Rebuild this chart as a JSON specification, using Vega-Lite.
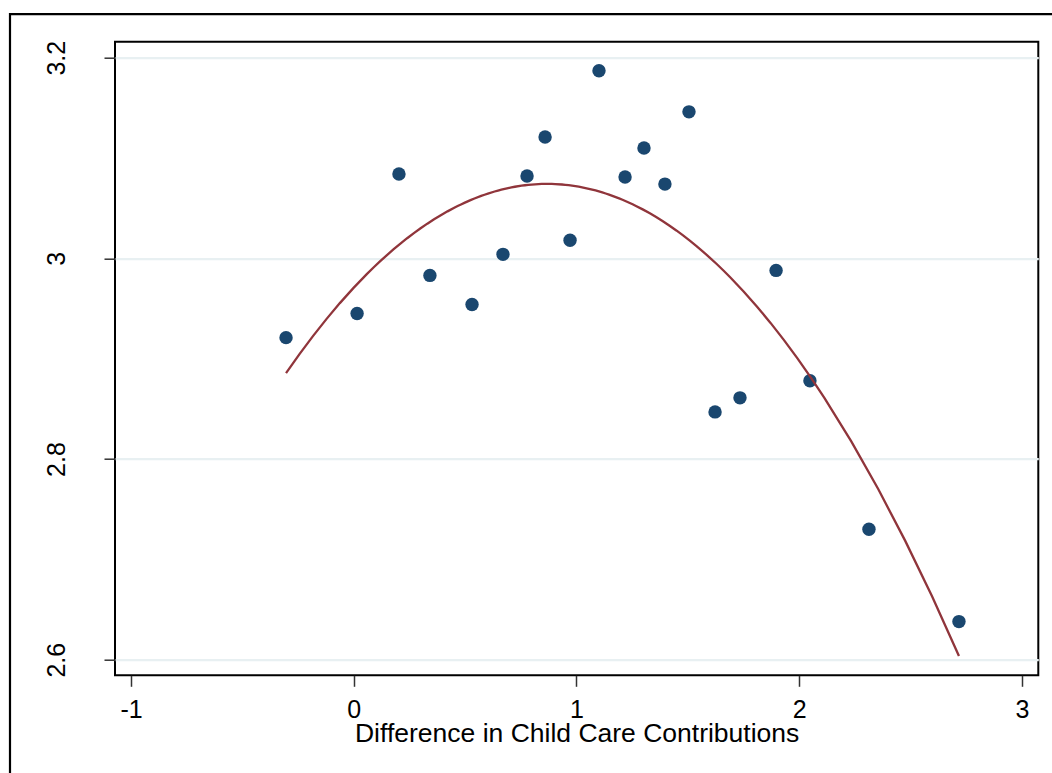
{
  "$schema": "https://vega.github.io/schema/vega-lite/v6.json",
  "width": 923.3,
  "height": 633.6,
  "autosize": {"type": "none"},
  "padding": {"left": 115, "top": 41.7, "right": 13.7, "bottom": 97.7},
  "background": "white",
  "config": {
    "view": {"stroke": "black", "strokeWidth": 2},
    "font": "Liberation Sans"
  },
  "data": {
    "values": [
      {"x": -0.304, "y": 2.921},
      {"x": 0.015, "y": 2.945},
      {"x": 0.203, "y": 3.084},
      {"x": 0.342, "y": 2.983},
      {"x": 0.531, "y": 2.954},
      {"x": 0.670, "y": 3.004},
      {"x": 0.778, "y": 3.082},
      {"x": 0.859, "y": 3.121},
      {"x": 0.971, "y": 3.018},
      {"x": 1.101, "y": 3.187},
      {"x": 1.218, "y": 3.081},
      {"x": 1.303, "y": 3.110},
      {"x": 1.397, "y": 3.074},
      {"x": 1.505, "y": 3.146},
      {"x": 1.622, "y": 2.847},
      {"x": 1.734, "y": 2.861},
      {"x": 1.896, "y": 2.988},
      {"x": 2.048, "y": 2.878},
      {"x": 2.313, "y": 2.730},
      {"x": 2.717, "y": 2.638}
    ]
  },
  "layer": [
    {
      "data": {"values": [{}]},
      "mark": {"type": "rect", "fill": null, "stroke": "black", "strokeWidth": 2.2, "clip": false},
      "encoding": {
        "x": {"datum": -1.5432, "type": "quantitative"},
        "x2": {"datum": 4},
        "y": {"datum": 3.2433, "type": "quantitative"},
        "y2": {"datum": 2.3}
      }
    },
    {
      "mark": {"type": "point", "filled": true, "shape": "circle", "size": 180, "color": "#1a476f", "opacity": 1},
      "encoding": {
        "x": {
          "field": "x",
          "type": "quantitative",
          "scale": {"domain": [-1.0718, 3.0732], "nice": false, "zero": false},
          "axis": {
            "values": [-1, 0, 1, 2, 3],
            "labelExpr": "'' + datum.value",
            "grid": false,
            "domain": false,
            "tickSize": 11,
            "tickColor": "#333333",
            "tickWidth": 1.5,
            "labelFontSize": 25,
            "labelColor": "black",
            "labelBaseline": "alphabetic",
            "labelPadding": 31,
            "labelFlush": false,
            "title": "Difference in Child Care Contributions",
            "titleFontSize": 26.5,
            "titleFontWeight": "normal",
            "titleColor": "black",
            "titleBaseline": "alphabetic",
            "titleY": 66
          }
        },
        "y": {
          "field": "y",
          "type": "quantitative",
          "scale": {"domain": [2.5845, 3.2159], "nice": false, "zero": false},
          "axis": {
            "values": [2.6, 2.8, 3, 3.2],
            "labelExpr": "'' + datum.value",
            "grid": true,
            "gridColor": "#e8f0f2",
            "gridWidth": 2.2,
            "domain": false,
            "tickSize": 11,
            "tickColor": "#333333",
            "tickWidth": 1.5,
            "labelFontSize": 25,
            "labelColor": "black",
            "labelAngle": 270,
            "labelAlign": "center",
            "labelBaseline": "alphabetic",
            "labelPadding": 40,
            "labelFlush": false,
            "title": null
          }
        }
      }
    },
    {
      "transform": [{"regression": "y", "on": "x", "method": "poly", "order": 2}],
      "mark": {"type": "line", "color": "#90353b", "strokeWidth": 2.3},
      "encoding": {
        "x": {"field": "x", "type": "quantitative"},
        "y": {"field": "y", "type": "quantitative"}
      }
    }
  ]
}
